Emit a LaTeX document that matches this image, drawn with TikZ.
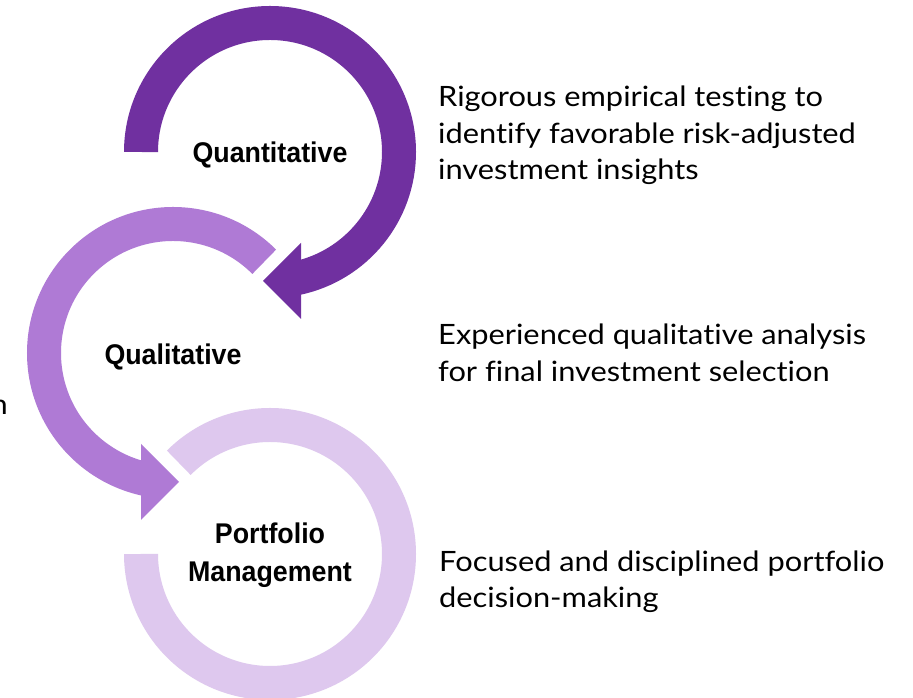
\documentclass[tikz,border=0pt]{standalone}
\usepackage{fontspec}
\usetikzlibrary{calc}
\setmainfont[Ligatures={NoCommon,NoDiscretionary},FakeStretch=1.1]{Lato}
\newfontfamily\headfont[FakeStretch=0.94]{Liberation Sans}
\begin{document}
\begin{tikzpicture}[x=1pt,y=1pt,
  ringdark/.style={draw=ringA,line width=34pt,line cap=butt},
  ringmid/.style={draw=ringB,line width=34pt,line cap=butt},
  ringlight/.style={draw=ringC,line width=34pt,line cap=butt},
  headlabel/.style={font=\headfont\bfseries\fontsize{28.5}{34}\selectfont,inner sep=0pt,anchor=base},
  bodytext/.style={font=\fontsize{28}{36}\selectfont,inner sep=0pt,anchor=base west,text=black}]
\definecolor{ringA}{HTML}{7030A0}
\definecolor{ringB}{HTML}{AF7AD5}
\definecolor{ringC}{HTML}{DEC8EE}
\useasboundingbox[fill=white] (0,0) rectangle (913,698);

% ring centres
\coordinate (cq) at (270,546);
\coordinate (cl) at (173,345);
\coordinate (cp) at (270,144);

% third ring: light, open at the upper left
\draw[ringlight] ($(cp)+(135:129)$) arc[start angle=135,end angle=-180,radius=129];

% second ring with its arrowhead pointing right
\draw[ringmid] ($(cl)+(45:129)$) arc[start angle=45,end angle=258,radius=129];
\coordinate (hl1) at (141,254);
\coordinate (hl2) at (141,178);
\coordinate (hlt) at (179,216);
\fill[ringB] (hl1) -- (hlt) -- (hl2) -- cycle;

% first ring with its arrowhead pointing left
\draw[ringdark] ($(cq)+(180:129)$) arc[start angle=180,end angle=-78,radius=129];
\coordinate (hq1) at (301,455);
\coordinate (hq2) at (301,379);
\coordinate (hqt) at (263,417);
\fill[ringA] (hq1) -- (hqt) -- (hq2) -- cycle;

% ring labels
\node[headlabel] (quant) at (270,535) {Quantitative};
\node[headlabel] (qual) at (173,333) {Qualitative};
\node[headlabel] (port1) at (270,154) {Portfolio};
\node[headlabel] (port2) at (270,116) {Management};

% descriptions
\node[bodytext] (d1a) at (438,591) {Rigorous empirical testing to};
\node[bodytext] (d1b) at (438,554) {identify favorable risk-adjusted};
\node[bodytext] (d1c) at (438,518) {investment insights};
\node[bodytext] (d2a) at (438,353) {Experienced qualitative analysis};
\node[bodytext] (d2b) at (438,316) {for final investment selection};
\node[bodytext] (d3a) at (439,126) {Focused and disciplined portfolio};
\node[bodytext] (d3b) at (439,90) {decision-making};

% trailing letter at the left edge
\node[bodytext,anchor=base east] (edge) at (8,283) {n};
\end{tikzpicture}
\end{document}
